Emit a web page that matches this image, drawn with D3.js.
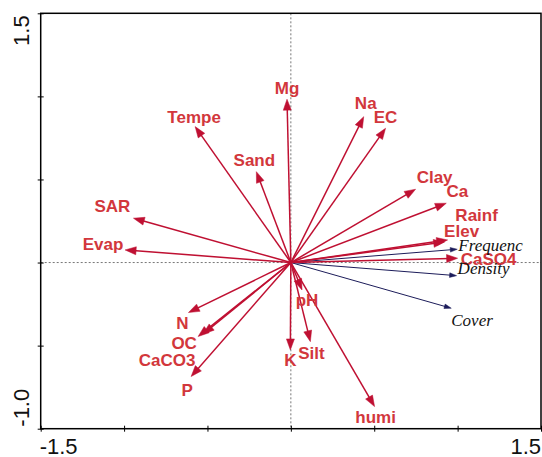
<!DOCTYPE html>
<html>
<head>
<meta charset="utf-8">
<script src="https://cdn.jsdelivr.net/npm/d3@7"></script>
<style>
  html, body { margin: 0; padding: 0; background: #fff; }
  svg { display: block; }
</style>
</head>
<body>
<svg id="chart" width="542" height="457"></svg>
<script>
// ---- data ----
const envNames = ["Mg","Tempe","Sand","Na","EC","Clay","Ca","Rainf","Elev","CaSO4","SAR","Evap","N","OC","CaCO3","P","K","pH","Silt","humi"];
const envX = [-0.023,-0.574,-0.207,0.437,0.568,0.748,0.932,0.940,0.922,1.000,-0.944,-0.994,-0.614,-0.556,-0.526,-0.598,-0.003,0.067,0.117,0.502];
const envY = [0.983,0.818,0.547,0.878,0.808,0.441,0.357,0.136,0.124,0.026,0.267,0.076,-0.301,-0.445,-0.430,-0.686,-0.526,-0.165,-0.476,-0.867];

const spNames = ["Frequenc","Density","Cover"];
const spX = [0.998,0.994,0.962];
const spY = [0.080,-0.079,-0.275];

const xTicks = [-1.5,-1.0,-0.5,0,0.5,1.0,1.5];
const yTicks = [-1.0,-0.5,0,0.5,1.0,1.5];
const xTickLabels = ["-1.5","1.5"];
const yTickLabels = ["-1.0","1.5"];

// ---- label layout (pixel offsets from arrow tips) ----
const envLabelOffset = {
  Mg:[0,-11], Tempe:[-1,-10], Sand:[-2,-12], Na:[2,-14], EC:[0,-11],
  Clay:[19,-12], Ca:[11,-12], Rainf:[29,-25], Elev:[17,-11], CaSO4:[31,1],
  SAR:[-21,-12], Evap:[-22,-6], N:[-6,10], OC:[-14,6], CaCO3:[-36,26],
  P:[-4,13], K:[0,10], pH:[5,10], Silt:[1,11], humi:[1,10]
};
const spLabelOffset = { Frequenc:[1,-4], Density:[1,-7], Cover:[0,12] };

// ---- scales ----
const x = d3.scaleLinear().domain([-1.5,1.5]).range([40.7,541]);
const y = d3.scaleLinear().domain([-1.0,1.5]).range([428.7,13.3]);

const svg = d3.select("#chart");

// reference dotted lines through origin
svg.append("line")
  .attr("x1", x(0)).attr("x2", x(0)).attr("y1", y(1.5)).attr("y2", y(-1.0))
  .attr("stroke", "#777").attr("stroke-width", 1).attr("stroke-dasharray", "2,2");
svg.append("line")
  .attr("x1", x(-1.5)).attr("x2", x(1.5)).attr("y1", y(0)).attr("y2", y(0))
  .attr("stroke", "#777").attr("stroke-width", 1).attr("stroke-dasharray", "2,2");

// arrows
function drawArrows(names, xs, ys, color, lw, headL, headW) {
  const g = svg.append("g");
  const ox = x(0), oy = y(0);
  names.forEach((n, i) => {
    const tx = x(xs[i]), ty = y(ys[i]);
    const dx = tx - ox, dy = ty - oy;
    const len = Math.sqrt(dx*dx + dy*dy);
    const ux = dx/len, uy = dy/len;
    const nx = -uy, ny = ux;
    const bx = tx - headL*ux, by = ty - headL*uy;
    g.append("line")
      .attr("x1", ox).attr("y1", oy)
      .attr("x2", tx - headL*0.7*ux).attr("y2", ty - headL*0.7*uy)
      .attr("stroke", color).attr("stroke-width", lw);
    g.append("polygon")
      .attr("points", [[tx,ty],[bx+headW*nx, by+headW*ny],[bx-headW*nx, by-headW*ny]].map(p=>p.join(",")).join(" "))
      .attr("fill", color).attr("stroke", color).attr("stroke-width", 0.5);
  });
}
drawArrows(spNames, spX, spY, "#1c1c5a", 1, 7, 2.3);
drawArrows(envNames, envX, envY, "#bf1032", 1.5, 11, 4);

// env labels
svg.append("g").selectAll("text").data(envNames).join("text")
  .attr("x", (d,i) => x(envX[i]) + envLabelOffset[d][0])
  .attr("y", (d,i) => y(envY[i]) + envLabelOffset[d][1])
  .attr("dy", "0.36em")
  .attr("text-anchor", "middle")
  .attr("font-family", "Liberation Sans, Arial, sans-serif")
  .attr("font-weight", "bold")
  .attr("font-size", 17)
  .attr("fill", "#d2373c")
  .text(d => d);

// species labels
svg.append("g").selectAll("text").data(spNames).join("text")
  .attr("x", (d,i) => x(spX[i]) + spLabelOffset[d][0])
  .attr("y", (d,i) => y(spY[i]) + spLabelOffset[d][1])
  .attr("dy", "0.32em")
  .attr("text-anchor", "start")
  .attr("font-family", "Liberation Serif, Times New Roman, serif")
  .attr("font-style", "italic")
  .attr("font-size", 17)
  .attr("fill", "#111")
  .text(d => d);

// axes ticks (crossing the frame)
const xAxis = d3.axisBottom(x).tickValues(xTicks).tickSize(6).tickFormat("");
svg.append("g").attr("transform", `translate(0,${y(-1.0)-3})`).call(xAxis)
  .call(g => g.select(".domain").remove())
  .selectAll("line").attr("stroke", "#000").attr("stroke-width", 1);
const yAxis = d3.axisLeft(y).tickValues(yTicks).tickSize(6).tickFormat("");
svg.append("g").attr("transform", `translate(${x(-1.5)+3},0)`).call(yAxis)
  .call(g => g.select(".domain").remove())
  .selectAll("line").attr("stroke", "#000").attr("stroke-width", 1);

// frame
svg.append("rect")
  .attr("x", x(-1.5)).attr("y", y(1.5))
  .attr("width", x(1.5) - x(-1.5)).attr("height", y(-1.0) - y(1.5))
  .attr("fill", "none").attr("stroke", "#000").attr("stroke-width", 1.5);

// tick labels
svg.append("text").attr("x", x(-1.5) - 1).attr("y", 454)
  .attr("text-anchor", "start").attr("font-family", "Liberation Sans, Arial, sans-serif")
  .attr("font-size", 22).attr("fill", "#111").text(xTickLabels[0]);
svg.append("text").attr("x", x(1.5)).attr("y", 454)
  .attr("text-anchor", "end").attr("font-family", "Liberation Sans, Arial, sans-serif")
  .attr("font-size", 22).attr("fill", "#111").text(xTickLabels[1]);
svg.append("text").attr("transform", `translate(28.5,${y(-1.0)-2}) rotate(-90)`)
  .attr("text-anchor", "start").attr("font-family", "Liberation Sans, Arial, sans-serif")
  .attr("font-size", 22).attr("fill", "#111").text(yTickLabels[0]);
svg.append("text").attr("transform", `translate(28.5,${y(1.5)+2}) rotate(-90)`)
  .attr("text-anchor", "end").attr("font-family", "Liberation Sans, Arial, sans-serif")
  .attr("font-size", 22).attr("fill", "#111").text(yTickLabels[1]);
</script>
</body>
</html>
